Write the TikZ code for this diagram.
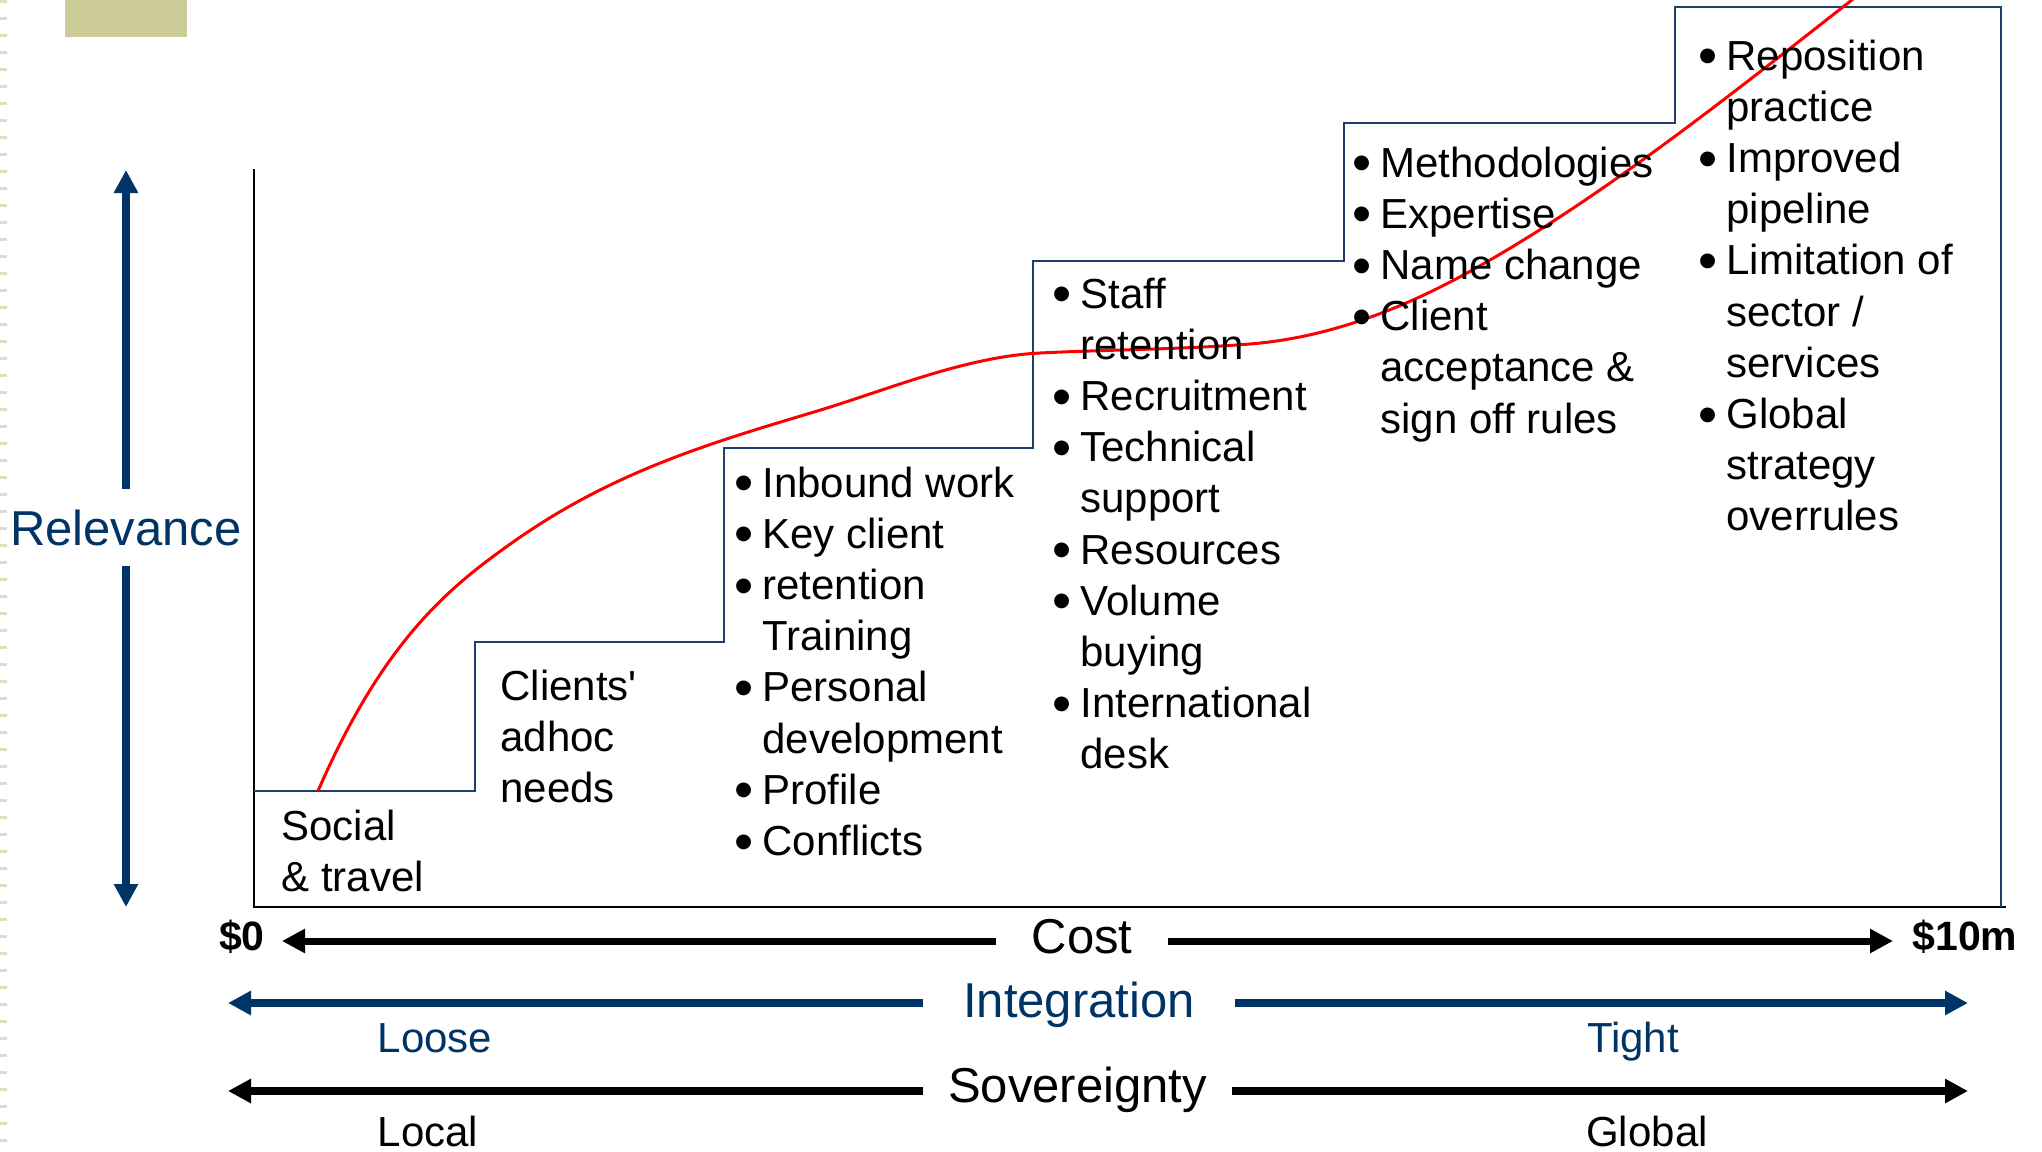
\documentclass[tikz,border=0pt]{standalone}
\usepackage{fontspec}
\newfontfamily\arl{Liberation Sans}
\usepackage{tikz}
\usetikzlibrary{arrows.meta}

\definecolor{navy}{RGB}{0,51,102}
\definecolor{stepblue}{RGB}{31,63,111}
\definecolor{khaki}{RGB}{204,204,153}
\definecolor{tickcol}{RGB}{222,220,190}

\newcommand{\itemfont}{\fontsize{21}{25.6}\selectfont}
\newcommand{\axfont}{\fontsize{24.5}{29}\selectfont}
\newcommand{\dolfont}{\fontsize{20.5}{24}\selectfont}
\newcommand{\bul}{\makebox[13.8pt][l]{\raisebox{-0.11em}{\scalebox{1.3}{\textbullet}}}}
\newcommand{\nob}{\hspace*{13.8pt}}

\begin{document}
\begin{tikzpicture}[x=0.5pt, y=-0.5pt, inner sep=0pt, font=\arl, >={Triangle[length=11.5pt,width=11.5pt]}]
  \tikzstyle{list}=[anchor=base west, font=\arl\itemfont]
  \tikzstyle{axis}=[anchor=base, font=\arl\axfont]
  \tikzstyle{pole}=[anchor=base, font=\arl\itemfont]
  \tikzstyle{blackarrow}=[->, line width=3.5pt]
  \tikzstyle{bluearrow}=[->, navy, line width=3.75pt]

  \useasboundingbox (0,0) rectangle (2042,1152);

  % slide bits
  \fill[khaki] (65,0) rectangle (187,37);
  \draw[tickcol, line width=3.5pt, dash pattern=on 1.5pt off 7pt] (3.5,0) -- (3.5,1152);

  % axes and steps
  \draw[line width=1pt] (254,169) -- (254,907) -- (2006,907);
  \draw[stepblue, line width=1pt] (254,791) -| (475,642) -| (724,448) -| (1033,261) -| (1344,123) -| (1675,7) -| (2001,907);

  % relevance curve
  \draw[red, line width=1.5pt] (318,791) .. controls (384,639.2) and (450,586.2) .. (516,540)
    .. controls (615.3,470.5) and (714.7,441.8) .. (814,412)
    .. controls (889.3,389.4) and (964.7,356.8) .. (1040,353)
    .. controls (1110,349.5) and (1180,349.6) .. (1250,344)
    .. controls (1322.3,338.2) and (1394.7,312.8) .. (1467,273)
    .. controls (1604.7,197.3) and (1742.3,85.4) .. (1880,-22);

  % step texts
  \node[list] (social) at (281,840) {\begin{tabular}[t]{@{}l@{}}Social\\\& travel\end{tabular}};
  \node[list] (adhoc) at (500,700) {\begin{tabular}[t]{@{}l@{}}Clients'\\adhoc\\needs\end{tabular}};
  \node[list] (inbound) at (734.4,497) {\begin{tabular}[t]{@{}l@{}}\bul Inbound work\\\bul Key client\\\bul retention\\\nob Training\\\bul Personal\\\nob development\\\bul Profile\\\bul Conflicts\end{tabular}};
  \node[list] (staff) at (1052.4,308) {\begin{tabular}[t]{@{}l@{}}\bul Staff\\\nob retention\\\bul Recruitment\\\bul Technical\\\nob support\\\bul Resources\\\bul Volume\\\nob buying\\\bul International\\\nob desk\end{tabular}};
  \node[list] (method) at (1352.4,177) {\begin{tabular}[t]{@{}l@{}}\bul Methodologies\\\bul Expertise\\\bul Name change\\\bul Client\\\nob acceptance \&\\\nob sign off rules\end{tabular}};
  \node[list] (repos) at (1698.4,70) {\begin{tabular}[t]{@{}l@{}}\bul Reposition\\\nob practice\\\bul Improved\\\nob pipeline\\\bul Limitation of\\\nob sector /\\\nob services\\\bul Global\\\nob strategy\\\nob overrules\end{tabular}};

  % relevance axis
  \node[axis, navy, inner ysep=10pt] (rel) at (126,545) {Relevance};
  \coordinate (reltop) at (126,170);
  \coordinate (relbot) at (126,907);
  \draw[bluearrow, line width=4pt] (rel.north) -- (reltop);
  \draw[bluearrow, line width=4pt] (rel.south) -- (relbot);

  % cost axis
  \node[axis, inner xsep=17.5pt] (cost) at (1082,953) {Cost};
  \node[anchor=base, font=\arl\bfseries\dolfont] (zero) at (242,950) {\$0};
  \node[anchor=base, font=\arl\bfseries\dolfont] (ten) at (1965,950) {\$10m};
  \coordinate (c0) at (282,941);
  \coordinate (c1) at (1893,941);
  \draw[blackarrow] (cost.west |- c0) -- (c0);
  \draw[blackarrow] (cost.east |- c1) -- (c1);

  % integration axis
  \node[axis, navy, inner xsep=20pt] (integ) at (1079,1017) {Integration};
  \coordinate (i0) at (228,1003);
  \coordinate (i1) at (1968,1003);
  \draw[bluearrow] (integ.west |- i0) -- (i0);
  \draw[bluearrow] (integ.east |- i1) -- (i1);
  \node[pole, navy] (loose) at (435,1052) {Loose};
  \node[pole, navy] (tight) at (1633,1052) {Tight};

  % sovereignty axis
  \node[axis, inner xsep=12.5pt] (sov) at (1077.5,1102) {Sovereignty};
  \coordinate (s0) at (228,1091);
  \coordinate (s1) at (1968,1091);
  \draw[blackarrow, line width=3.75pt] (sov.west |- s0) -- (s0);
  \draw[blackarrow, line width=3.75pt] (sov.east |- s1) -- (s1);
  \node[pole] (local) at (428,1146) {Local};
  \node[pole] (global) at (1647,1146) {Global};
\end{tikzpicture}
\end{document}
